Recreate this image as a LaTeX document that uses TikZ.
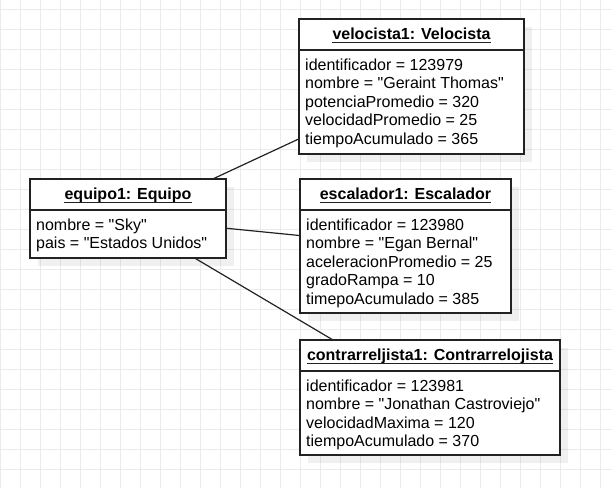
\documentclass[tikz,border=0pt]{standalone}
\usepackage{fontspec}
\setmainfont{Liberation Sans}[Ligatures=TeXOff]
\usetikzlibrary{shadows}
\definecolor{gridgray}{HTML}{EBEBEB}
\definecolor{edge}{HTML}{222222}
\tikzstyle{gridline} = [gridgray, line width=1pt]
\tikzstyle{obj} = [draw=edge, line width=1.3pt, fill=white, inner sep=0, outer sep=0, drop shadow={shadow xshift=8pt, shadow yshift=-8pt, fill=black, opacity=0.06}]
\tikzstyle{objtitle} = [anchor=base, inner sep=0, font=\fontsize{16}{18.6}\selectfont\bfseries]
\tikzstyle{attrs} = [anchor=north west, inner sep=0, align=left, font=\fontsize{16}{18.6}\selectfont]
\tikzstyle{sepline} = [edge, line width=1.3pt]
\tikzstyle{assoc} = [edge, line width=1.2pt]

\begin{document}
\begin{tikzpicture}[x=1pt, y=-1pt]
	\useasboundingbox (0,0) rectangle (612,488);
	% background grid
	\foreach \x in {0,20,...,600} \draw[gridline] (\x,0) -- (\x,488);
	\foreach \y in {9,29,...,469} \draw[gridline] (0,\y) -- (612,\y);

	\node[obj, minimum width=196pt, minimum height=79pt] (equipo) at (128,218.5) {};
	\node[obj, minimum width=225pt, minimum height=135pt] (velocista) at (411.5,86.5) {};
	\node[obj, minimum width=211pt, minimum height=134pt] (escalador) at (405.5,246) {};
	\node[obj, minimum width=260pt, minimum height=115pt] (contra) at (430,397.5) {};

	\foreach \n in {equipo, velocista, escalador, contra}
		\draw[sepline] ([yshift=-31pt]\n.north west) -- ([yshift=-31pt]\n.north east);

	\node[objtitle] (equipo-t) at ([yshift=-20.5pt]equipo.north) {equipo1: Equipo};
	\node[objtitle] (velocista-t) at ([yshift=-20.5pt]velocista.north) {velocista1: Velocista};
	\node[objtitle] (escalador-t) at ([yshift=-20.5pt]escalador.north) {escalador1: Escalador};
	\node[objtitle] (contra-t) at ([yshift=-20.5pt]contra.north) {contrarreljista1: Contrarrelojista};
	\foreach \n in {equipo-t, velocista-t, escalador-t, contra-t}
		\draw[sepline] ([yshift=-3pt]\n.base west) -- ([yshift=-3pt]\n.base east);

	\node[attrs] (equipo-a) at ([xshift=6pt, yshift=-39.3pt]equipo.north west) {nombre = "Sky"\\pais = "Estados Unidos"};
	\node[attrs] (velocista-a) at ([xshift=6pt, yshift=-39.3pt]velocista.north west) {identificador = 123979\\nombre = "Geraint Thomas"\\potenciaPromedio = 320\\velocidadPromedio = 25\\tiempoAcumulado = 365};
	\node[attrs] (escalador-a) at ([xshift=6pt, yshift=-39.3pt]escalador.north west) {identificador = 123980\\nombre = "Egan Bernal"\\aceleracionPromedio = 25\\gradoRampa = 10\\timepoAcumulado = 385};
	\node[attrs] (contra-a) at ([xshift=6pt, yshift=-39.3pt]contra.north west) {identificador = 123981\\nombre = "Jonathan Castroviejo"\\velocidadMaxima = 120\\tiempoAcumulado = 370};

	\draw[assoc] (equipo) -- (velocista);
	\draw[assoc] (equipo) -- (escalador);
	\draw[assoc] (equipo) -- (contra);
\end{tikzpicture}
\end{document}
